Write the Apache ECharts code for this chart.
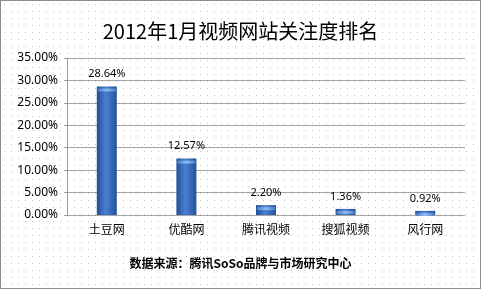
<!DOCTYPE html>
<html>
<head>
<meta charset="utf-8">
<script src="https://cdn.jsdelivr.net/npm/echarts@6/dist/echarts.min.js"></script>
<style>
  html, body { margin: 0; padding: 0; background: #fff; }
  #chart {
    width: 481px; height: 289px; box-sizing: border-box;
    border: 1px solid #8c8c8c;
    background-color: #fff;
    background-image: radial-gradient(circle, #c4c4c4 0.7px, transparent 0.9px);
    background-size: 7px 7px;
  }
</style>
</head>
<body>
<div id="chart"></div>
<script>
// 数据
const categories = ['土豆网', '优酷网', '腾讯视频', '搜狐视频', '风行网'];
const values = [28.64, 12.57, 2.20, 1.36, 0.92];
const yTicks = [0, 5, 10, 15, 20, 25, 30, 35];

const chart = echarts.init(document.getElementById('chart'));

const barColor = new echarts.graphic.LinearGradient(0, 0, 1, 0, [
  { offset: 0, color: '#234f93' },
  { offset: 0.45, color: '#4a80d2' },
  { offset: 1, color: '#24519a' }
]);
const capColor = new echarts.graphic.LinearGradient(0, 0, 1, 0, [
  { offset: 0, color: '#4c7fc8' },
  { offset: 0.5, color: '#8fbdf2' },
  { offset: 1, color: '#4c7fc8' }
]);

const option = {
  animation: false,
  title: {
    text: '2012年1月视频网站关注度排名',
    left: 'center',
    top: 15,
    textStyle: { fontFamily: 'Noto Sans CJK SC', fontSize: 20, fontWeight: 'normal', color: '#000' }
  },
  grid: { left: 66, right: 15, top: 57, bottom: 73 },
  xAxis: {
    type: 'category',
    data: categories,
    axisLine: { show: false },
    axisTick: { show: false },
    axisLabel: { margin: 8, fontFamily: 'Noto Sans CJK SC', fontSize: 12, color: '#000' }
  },
  yAxis: {
    type: 'value',
    min: yTicks[0],
    max: yTicks[yTicks.length - 1],
    interval: 5,
    axisLine: { show: true, lineStyle: { color: '#9a9a9a' } },
    axisTick: { show: true, inside: false, length: 3, lineStyle: { color: '#9a9a9a' } },
    splitLine: { lineStyle: { color: '#a6a6a6', width: 1 } },
    axisLabel: {
      margin: 9,
      fontFamily: 'Noto Sans', fontSize: 12, color: '#000',
      formatter: v => v.toFixed(2) + '%'
    }
  },
  series: [
    {
      type: 'bar',
      data: values,
      barWidth: 20,
      itemStyle: { color: barColor },
      label: {
        show: true, position: 'top', distance: 7,
        fontFamily: 'Noto Sans', fontSize: 11, color: '#000',
        formatter: p => p.value.toFixed(2) + '%'
      },
      z: 2
    },
    {
      type: 'pictorialBar',
      data: values,
      symbol: 'rect',
      symbolSize: [18, 3],
      symbolPosition: 'end',
      symbolOffset: [0, 2],
      itemStyle: { color: capColor },
      z: 3
    }
  ],
  graphic: [
    {
      type: 'text',
      left: 'center',
      top: 256,
      style: {
        text: '数据来源：腾讯SoSo品牌与市场研究中心',
        font: 'bold 12px "Noto Sans CJK SC"',
        fill: '#000'
      }
    }
  ]
};

chart.setOption(option);
</script>
</body>
</html>
